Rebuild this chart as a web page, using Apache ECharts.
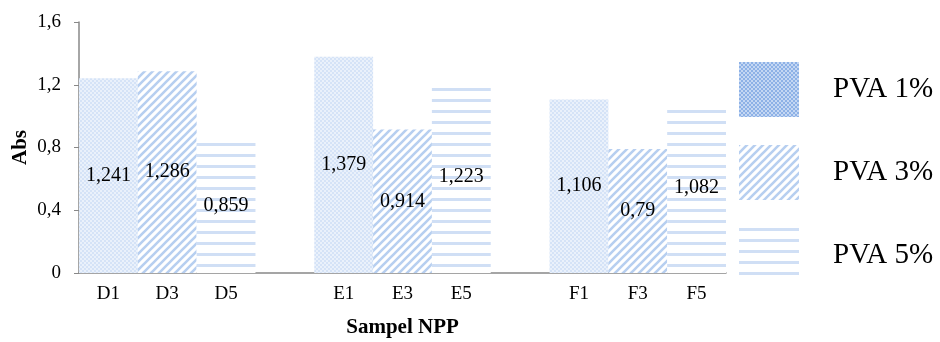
<!DOCTYPE html>
<html>
<head>
<meta charset="utf-8">
<script src="https://cdn.jsdelivr.net/npm/echarts@6/dist/echarts.min.js"></script>
<style>html,body{margin:0;padding:0;background:#fff;}#c{width:940px;height:342px;}</style>
</head>
<body>
<div id="c"></div>
<script>
const categories = ['D1','D3','D5','','E1','E3','E5','','F1','F3','F5'];
const seriesNames = ['PVA 1%','PVA 3%','PVA 5%'];
const pva1 = [1.241, null, null, null, 1.379, null, null, null, 1.106, null, null];
const pva3 = [null, 1.286, null, null, null, 0.914, null, null, null, 0.79, null];
const pva5 = [null, null, 0.859, null, null, null, 1.223, null, null, null, 1.082];
const yTicks = {min: 0, max: 1.6, interval: 0.4};

function mk(w, h, draw) {
  const c = document.createElement('canvas');
  c.width = w; c.height = h;
  const ctx = c.getContext('2d');
  ctx.fillStyle = '#fff'; ctx.fillRect(0, 0, w, h);
  draw(ctx);
  return {image: c, repeat: 'repeat'};
}
function checker(a, b) {
  return mk(4, 4, ctx => {
    ctx.fillStyle = b; ctx.fillRect(0,0,4,4);
    ctx.fillStyle = a;
    ctx.fillRect(0,0,2,2); ctx.fillRect(2,2,2,2);
  });
}
function diag(col) {
  return mk(8, 8, ctx => {
    ctx.strokeStyle = col; ctx.lineWidth = 2.6;
    ctx.beginPath();
    ctx.moveTo(-8, 8); ctx.lineTo(8, -8);
    ctx.moveTo(0, 8); ctx.lineTo(8, 0);
    ctx.moveTo(0, 16); ctx.lineTo(16, 0);
    ctx.stroke();
  });
}
function horiz(col, p) {
  return mk(2, p, ctx => {
    ctx.fillStyle = col; ctx.fillRect(0, 0, 2, 3);
  });
}
const pat1Bar = checker('#d5e3f7', '#eaf1fb');
const pat1Leg = checker('#8db1e6', '#c4d7f3');
const pat3 = diag('#b7cff0');
const pat5 = horiz('#d0dff5', 11);

const fmt = v => String(v).replace('.', ',');
function mkData(arr, barColor) {
  return arr.map(v => v === null ? '-' : (barColor ? {value: v, itemStyle: {color: barColor}} : v));
}
const serif = '"Liberation Serif", "Times New Roman", serif';
const labelCfg = {
  show: true, position: 'inside', color: '#000',
  fontFamily: serif, fontSize: 20,
  formatter: p => fmt(p.value)
};

const chart = echarts.init(document.getElementById('c'), null, {renderer: 'canvas'});
chart.setOption({
  animation: false,
  backgroundColor: '#fff',
  grid: {left: 79, right: 214, top: 22, bottom: 69, containLabel: false, outerBoundsMode: 'none'},
  legend: {
    orient: 'vertical', left: 734, top: 57,
    itemWidth: 60, itemHeight: 55, itemGap: 28,
    icon: 'rect',
    data: seriesNames,
    textStyle: {fontFamily: serif, fontSize: 29, color: '#000', padding: [0, 0, 0, 29]}
  },
  xAxis: {
    type: 'category', data: categories,
    name: 'Sampel NPP', nameLocation: 'middle', nameGap: 44,
    nameTextStyle: {fontFamily: serif, fontSize: 21, fontWeight: 'bold', color: '#000'},
    axisLine: {lineStyle: {color: '#888', width: 1.5}},
    axisTick: {show: false},
    axisLabel: {fontFamily: serif, fontSize: 19, color: '#000', margin: 12, interval: 0}
  },
  yAxis: {
    type: 'value', min: yTicks.min, max: yTicks.max, interval: yTicks.interval,
    name: 'Abs', nameLocation: 'middle', nameGap: 48, nameMoveOverlap: false,
    nameTextStyle: {fontFamily: serif, fontSize: 21, fontWeight: 'bold', color: '#000'},
    axisLine: {show: true, lineStyle: {color: '#888', width: 1.5}},
    axisTick: {show: true, length: 5, lineStyle: {color: '#888'}},
    splitLine: {show: false},
    axisLabel: {fontFamily: serif, fontSize: 19, color: '#000', margin: 18, formatter: v => fmt(v)}
  },
  series: [
    {name: seriesNames[0], type: 'bar', stack: 's', barWidth: '100%', itemStyle: {color: pat1Leg}, data: mkData(pva1, pat1Bar), label: labelCfg},
    {name: seriesNames[1], type: 'bar', stack: 's', barWidth: '100%', itemStyle: {color: pat3}, data: mkData(pva3), label: labelCfg},
    {name: seriesNames[2], type: 'bar', stack: 's', barWidth: '100%', itemStyle: {color: pat5}, data: mkData(pva5), label: labelCfg}
  ]
});
</script>
</body>
</html>
